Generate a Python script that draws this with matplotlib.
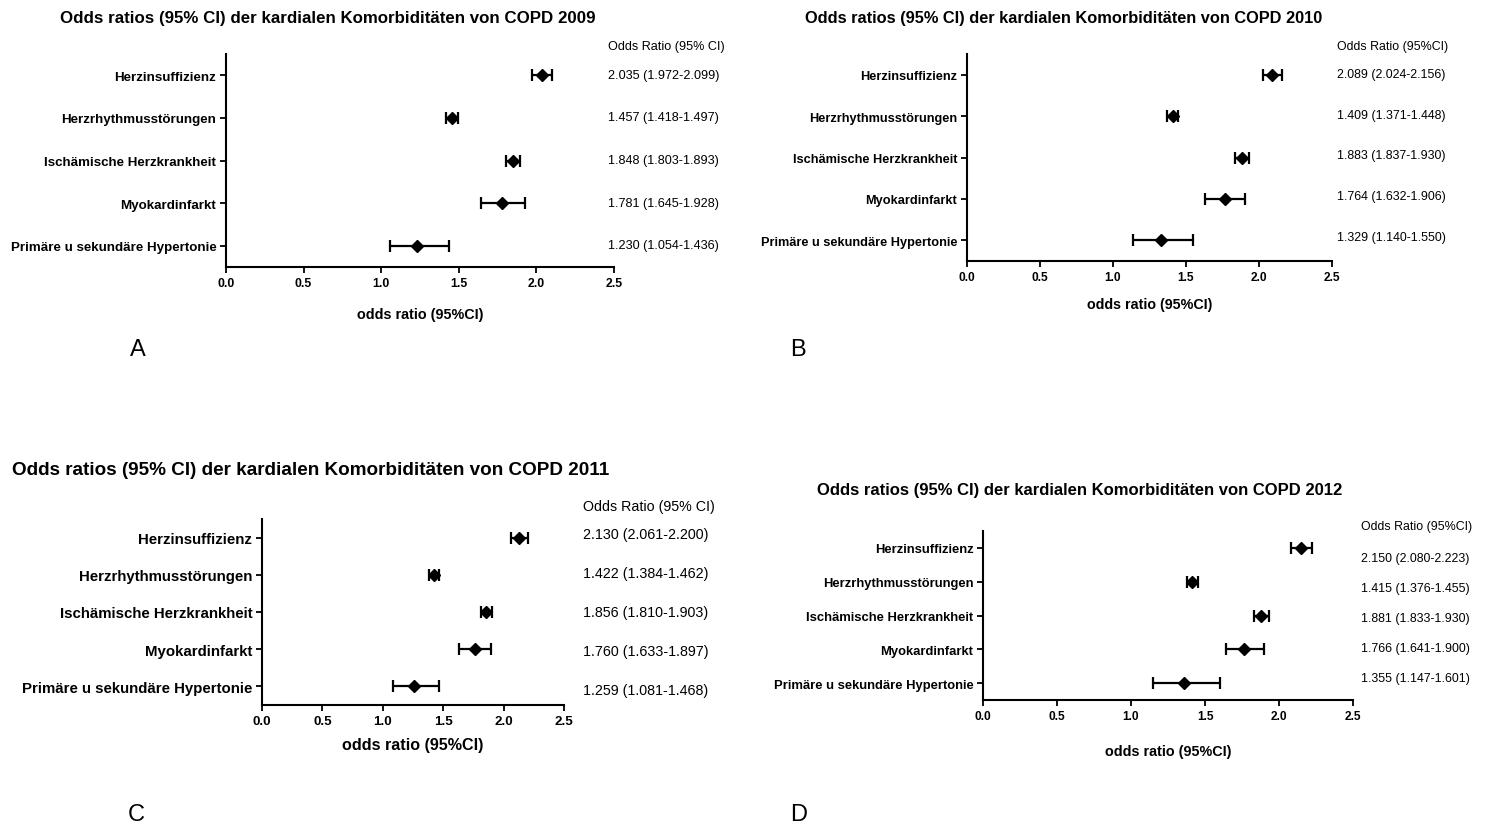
import numpy as np
import matplotlib.pyplot as plt

plt.rcParams['font.family'] = ['Liberation Sans', 'DejaVu Sans']

categories = ['Herzinsuffizienz', 'Herzrhythmusstörungen', 'Ischämische Herzkrankheit',
              'Myokardinfarkt', 'Primäre u sekundäre Hypertonie']
years = [2009, 2010, 2011, 2012]
panel_letters = ['A', 'B', 'C', 'D']

or_2009 = [2.035, 1.457, 1.848, 1.781, 1.230]
lo_2009 = [1.972, 1.418, 1.803, 1.645, 1.054]
hi_2009 = [2.099, 1.497, 1.893, 1.928, 1.436]

or_2010 = [2.089, 1.409, 1.883, 1.764, 1.329]
lo_2010 = [2.024, 1.371, 1.837, 1.632, 1.140]
hi_2010 = [2.156, 1.448, 1.930, 1.906, 1.550]

or_2011 = [2.130, 1.422, 1.856, 1.760, 1.259]
lo_2011 = [2.061, 1.384, 1.810, 1.633, 1.081]
hi_2011 = [2.200, 1.462, 1.903, 1.897, 1.468]

or_2012 = [2.150, 1.415, 1.881, 1.766, 1.355]
lo_2012 = [2.080, 1.376, 1.833, 1.641, 1.147]
hi_2012 = [2.223, 1.455, 1.930, 1.900, 1.601]

headers = ['Odds Ratio (95% CI)', 'Odds Ratio (95%CI)', 'Odds Ratio (95% CI)', 'Odds Ratio (95%CI)']
xticks = [0.0, 0.5, 1.0, 1.5, 2.0, 2.5]

data = [(or_2009, lo_2009, hi_2009), (or_2010, lo_2010, hi_2010),
        (or_2011, lo_2011, hi_2011), (or_2012, lo_2012, hi_2012)]

W, H = 1486, 829
fig = plt.figure(figsize=(W / 100, H / 100), dpi=100)

# pixel layout per panel: axes box, title, text column, letter, font sizes
layout = [
    dict(box=(226, 614, 55, 268), title=(328, 18), col=(608, 47, 76, 246), letter=(130, 350), xlab=315,
         fs_title=12.2, fs_cat=9.6, fs_tick=8.8, fs_col=9.1, fs_xlab=10.4),
    dict(box=(967, 1332, 55, 262), title=(1064, 18), col=(1337, 47, 75, 238), letter=(790, 350), xlab=305,
         fs_title=11.8, fs_cat=9.2, fs_tick=8.6, fs_col=8.9, fs_xlab=10.3),
    dict(box=(262, 564, 520, 706), title=(311, 471), col=(583, 507, 535, 691), letter=(128, 815), xlab=746,
         fs_title=13.6, fs_cat=10.8, fs_tick=9.6, fs_col=10.3, fs_xlab=11.6),
    dict(box=(983, 1353, 532, 701), title=(1080, 490), col=(1361, 527, 559, 679), letter=(790, 815), xlab=752,
         fs_title=12.0, fs_cat=9.4, fs_tick=8.6, fs_col=8.9, fs_xlab=10.4),
]

for k in range(4):
    est, lo, hi = data[k]
    L = layout[k]
    x0, x1, top, bot = L['box']
    ax = fig.add_axes([x0 / W, 1 - bot / H, (x1 - x0) / W, (bot - top) / H])
    y = np.arange(len(categories))
    est = np.array(est)
    err = [est - np.array(lo), np.array(hi) - est]
    ax.errorbar(est, y, xerr=err, fmt='D', color='black', ms=6, elinewidth=1.6,
                capsize=4, capthick=1.6)
    ax.set_xlim(0, 2.5)
    ax.set_ylim(4.5, -0.5)
    ax.set_xticks(xticks)
    ax.set_xticklabels(['%.1f' % t for t in xticks], fontweight='bold', fontsize=L['fs_tick'])
    ax.set_yticks(y)
    ax.set_yticklabels(categories, fontweight='bold', fontsize=L['fs_cat'])
    for s in ['top', 'right']:
        ax.spines[s].set_visible(False)
    for s in ['left', 'bottom']:
        ax.spines[s].set_linewidth(1.5)
    ax.tick_params(axis='both', length=4, width=1.3, direction='out', pad=3)

    title = 'Odds ratios (95% CI) der kardialen Komorbiditäten von COPD ' + str(years[k])
    fig.text(L['title'][0] / W, 1 - L['title'][1] / H, title,
             ha='center', va='center', fontweight='bold', fontsize=L['fs_title'])
    fig.text(((x0 + x1) / 2) / W, 1 - L['xlab'] / H, 'odds ratio (95%CI)',
             ha='center', va='center', fontweight='bold', fontsize=L['fs_xlab'])
    cx, hy, ty, by = L['col']
    fig.text(cx / W, 1 - hy / H, headers[k], ha='left', va='center', fontsize=L['fs_col'])
    ys = np.linspace(ty, by, len(categories))
    for i in range(len(categories)):
        fig.text(cx / W, 1 - ys[i] / H, '%.3f (%.3f-%.3f)' % (est[i], lo[i], hi[i]),
                 ha='left', va='center', fontsize=L['fs_col'])
    fig.text(L['letter'][0] / W, 1 - L['letter'][1] / H, panel_letters[k],
             ha='left', va='center', fontsize=17)

fig.savefig('out.png', dpi=100)
